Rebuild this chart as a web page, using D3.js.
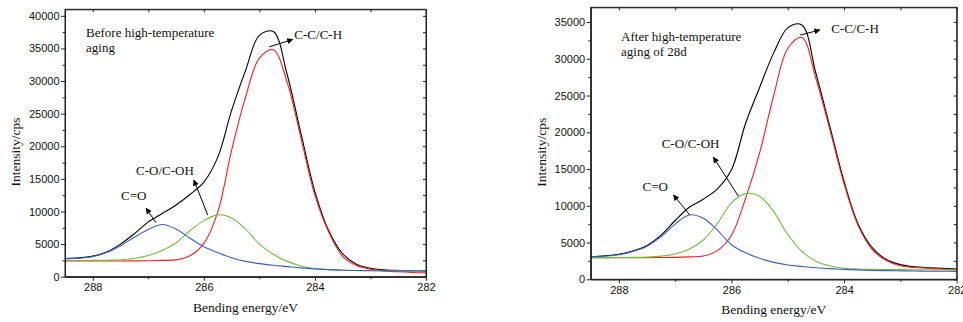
<!DOCTYPE html>
<html>
<head>
<meta charset="utf-8">
<script src="https://cdn.jsdelivr.net/npm/d3@7"></script>
<style>
  html, body { margin: 0; padding: 0; background: #fff; }
  svg { display: block; }
</style>
</head>
<body>
<script>
// ---------- DATA ----------
// Binding energy grid (eV), shared by all series
const energy = [288.5, 288.25, 288, 287.75, 287.5, 287.25, 287, 286.75, 286.5, 286.25, 286, 285.75, 285.5, 285.25, 285,
                284.75, 284.5, 284.25, 284, 283.75, 283.5, 283.25, 283, 282.75, 282.5, 282.25, 282];

// Before high-temperature aging
const beforeTotal = [2780, 2880, 3150, 3800, 5000, 6600, 8400, 9700, 11000, 12600, 14500, 18300, 25500, 31600, 37000,
                     37600, 31000, 21900, 13000, 7000, 3500, 1900, 1300, 1050, 960, 930, 910];
const beforeCdO   = [2750, 2850, 3100, 3700, 4750, 6050, 7250, 8000, 7300, 5900, 4600, 3700, 2900, 2350, 2000,
                     1750, 1550, 1350, 1200, 1080, 1000, 950, 920, 900, 880, 870, 860];
const beforeCOH   = [2480, 2480, 2500, 2530, 2600, 2800, 3250, 4000, 5200, 7050, 8600, 9480, 9000, 7300, 5000,
                     3450, 2350, 1650, 1250, 1080, 1000, 960, 940, 930, 920, 910, 900];
const beforeCC    = [2400, 2400, 2400, 2400, 2400, 2420, 2450, 2500, 2580, 3200, 5100, 9900, 19400, 27500, 33500,
                     34800, 29800, 21200, 12500, 6800, 3100, 1700, 1150, 900, 750, 650, 600];

// After high-temperature aging of 28d
const afterTotal = [3080, 3200, 3400, 3850, 4600, 6000, 8000, 9800, 10900, 12300, 14900, 21200, 26100, 30800, 34200,
                    34600, 28000, 20700, 13300, 7500, 4300, 2700, 2000, 1700, 1580, 1480, 1400];
const afterCdO   = [3050, 3150, 3350, 3800, 4500, 5800, 7500, 8750, 8300, 6700, 4700, 3600, 2850, 2300, 1950,
                    1750, 1580, 1450, 1350, 1280, 1220, 1180, 1150, 1120, 1100, 1090, 1080];
const afterCOH   = [2950, 2950, 2960, 2980, 3020, 3150, 3450, 4100, 5350, 7600, 10400, 11650, 11300, 9200, 6100,
                    3800, 2450, 1800, 1500, 1400, 1360, 1340, 1320, 1300, 1290, 1280, 1270];
const afterCC    = [2950, 2950, 2950, 2950, 2950, 2960, 2980, 3050, 3170, 3900, 6000, 11000, 17200, 25000, 31400,
                    32900, 27300, 20300, 13000, 7300, 4050, 2550, 1850, 1600, 1500, 1400, 1300];

// Tick labels
const xTickLabels = [288, 286, 284, 282];
const yTicksBefore = [0, 5000, 10000, 15000, 20000, 25000, 30000, 35000, 40000];
const yTicksAfter = [0, 5000, 10000, 15000, 20000, 25000, 30000, 35000];

// Texts
const xTitle = "Bending energy/eV";
const yTitle = "Intensity/cps";

// ---------- DRAWING ----------
const W = 963, H = 322;
const svg = d3.select("body").append("svg").attr("width", W).attr("height", H);
svg.append("rect").attr("width", W).attr("height", H).attr("fill", "#fff");

const defs = svg.append("defs");
defs.append("marker").attr("id", "ah").attr("viewBox", "0 0 10 10")
  .attr("refX", 9).attr("refY", 5).attr("markerWidth", 7).attr("markerHeight", 6)
  .attr("markerUnits", "userSpaceOnUse").attr("orient", "auto")
  .append("path").attr("d", "M0,0 L10,5 L0,10 z").attr("fill", "#000");

const colors = { total: "#000000", cc: "#ff1a1a", coh: "#6cc23a", cdo: "#3a5ccc" };
const serif = "'Liberation Serif', 'Times New Roman', serif";
const sans = "'Liberation Sans', Arial, sans-serif";

function drawPanel(p) {
  const x = d3.scaleLinear().domain([288.5, 282]).range([p.x0, p.x1]);
  const y = d3.scaleLinear().domain([0, p.ymax]).range([p.y1, p.y0]);
  const g = svg.append("g");

  const line = d3.line().x((d, i) => x(energy[i])).y(d => y(d)).curve(d3.curveCatmullRom.alpha(0.5));
  const series = [
    [p.total, colors.total],
    [p.cc, colors.cc],
    [p.coh, colors.coh],
    [p.cdo, colors.cdo]
  ];
  series.forEach(([vals, c]) => {
    g.append("path").datum(vals).attr("d", line).attr("fill", "none")
      .attr("stroke", c).attr("stroke-width", 1.1);
  });

  const axisColor = "#222";
  const styleAxis = sel => {
    sel.selectAll("path,line").attr("stroke", axisColor).attr("stroke-width", 1);
    sel.selectAll("text").attr("font-family", sans).attr("font-size", 11).attr("fill", "#111");
  };

  const allInts = [288, 287, 286, 285, 284, 283, 282];
  const minorX = [287, 285, 283];
  const minorY = d3.range(2500, p.ymax, 5000);
  const allY = d3.range(0, p.ymax, 2500);

  // bottom
  g.append("g").attr("transform", `translate(0,${p.y1})`)
    .call(d3.axisBottom(x).tickValues(xTickLabels).tickSize(4).tickSizeOuter(0).tickPadding(3).tickFormat(d3.format("d")))
    .call(styleAxis);
  g.append("g").attr("transform", `translate(0,${p.y1})`)
    .call(d3.axisBottom(x).tickValues(minorX).tickSize(2.5).tickSizeOuter(0).tickFormat(""))
    .call(styleAxis);
  // top
  g.append("g").attr("transform", `translate(0,${p.y0})`)
    .call(d3.axisTop(x).tickValues(allInts).tickSize(-3).tickSizeOuter(0).tickFormat(""))
    .call(styleAxis);
  // left
  g.append("g").attr("transform", `translate(${p.x0},0)`)
    .call(d3.axisLeft(y).tickValues(p.yTicks).tickSize(4).tickSizeOuter(0).tickPadding(1.5).tickFormat(d3.format("d")))
    .call(styleAxis);
  g.append("g").attr("transform", `translate(${p.x0},0)`)
    .call(d3.axisLeft(y).tickValues(minorY).tickSize(2.5).tickSizeOuter(0).tickFormat(""))
    .call(styleAxis);
  // right
  g.append("g").attr("transform", `translate(${p.x1},0)`)
    .call(d3.axisRight(y).tickValues(allY).tickSize(-3).tickSizeOuter(0).tickFormat(""))
    .call(styleAxis);
  // close frame corners
  g.append("rect").attr("x", p.x0).attr("y", p.y0).attr("width", p.x1 - p.x0).attr("height", p.y1 - p.y0)
    .attr("fill", "none").attr("stroke", axisColor).attr("stroke-width", 1);

  // axis titles
  g.append("text").attr("x", (p.x0 + p.x1) / 2).attr("y", p.y1 + 35).attr("text-anchor", "middle")
    .attr("font-family", serif).attr("font-size", 13.5).attr("fill", "#111").text(xTitle);
  g.append("text").attr("transform", `translate(${p.x0 - 45},${(p.y0 + p.y1) / 2 + 9}) rotate(-90)`)
    .attr("text-anchor", "middle").attr("font-family", serif).attr("font-size", 13.5).attr("fill", "#111").text(yTitle);

  // annotations
  p.notes.forEach(n => {
    const t = g.append("text").attr("x", x(n.e)).attr("y", y(n.v))
      .attr("font-family", serif).attr("font-size", 13).attr("fill", "#111");
    n.lines.forEach((s, i) => {
      t.append("tspan").attr("x", x(n.e)).attr("dy", i === 0 ? 0 : 15).text(s);
    });
  });
  p.arrows.forEach(a => {
    g.append("line").attr("x1", x(a.e1)).attr("y1", y(a.v1)).attr("x2", x(a.e2)).attr("y2", y(a.v2))
      .attr("stroke", "#000").attr("stroke-width", 1).attr("marker-end", "url(#ah)");
  });
}

drawPanel({
  x0: 65, x1: 426, y0: 9.3, y1: 276.7, ymax: 41000, yTicks: yTicksBefore,
  total: beforeTotal, cc: beforeCC, coh: beforeCOH, cdo: beforeCdO,
  notes: [
    { e: 288.12, v: 36810, lines: ["Before high-temperature", "aging"] },
    { e: 284.37, v: 36430, lines: ["C-C/C-H"] },
    { e: 287.22, v: 15590, lines: ["C-O/C-OH"] },
    { e: 287.49, v: 11750, lines: ["C=O"] }
  ],
  arrows: [
    { e1: 284.82, v1: 35250, e2: 284.40, v2: 36380 },
    { e1: 285.93, v1: 9460, e2: 286.18, v2: 14820 },
    { e1: 286.86, v1: 8280, e2: 287.04, v2: 10480 }
  ]
});

drawPanel({
  x0: 590.7, x1: 956.7, y0: 7.3, y1: 279.3, ymax: 37000, yTicks: yTicksAfter,
  total: afterTotal, cc: afterCC, coh: afterCOH, cdo: afterCdO,
  notes: [
    { e: 287.96, v: 32420, lines: ["After high-temperature", "aging of 28d"] },
    { e: 284.23, v: 33460, lines: ["C-C/C-H"] },
    { e: 287.24, v: 17820, lines: ["C-O/C-OH"] },
    { e: 287.58, v: 12050, lines: ["C=O"] }
  ],
  arrows: [
    { e1: 284.78, v1: 33230, e2: 284.43, v2: 33910 },
    { e1: 285.88, v1: 11330, e2: 286.32, v2: 16600 },
    { e1: 286.74, v1: 8750, e2: 287.03, v2: 11470 }
  ]
});
</script>
</body>
</html>
